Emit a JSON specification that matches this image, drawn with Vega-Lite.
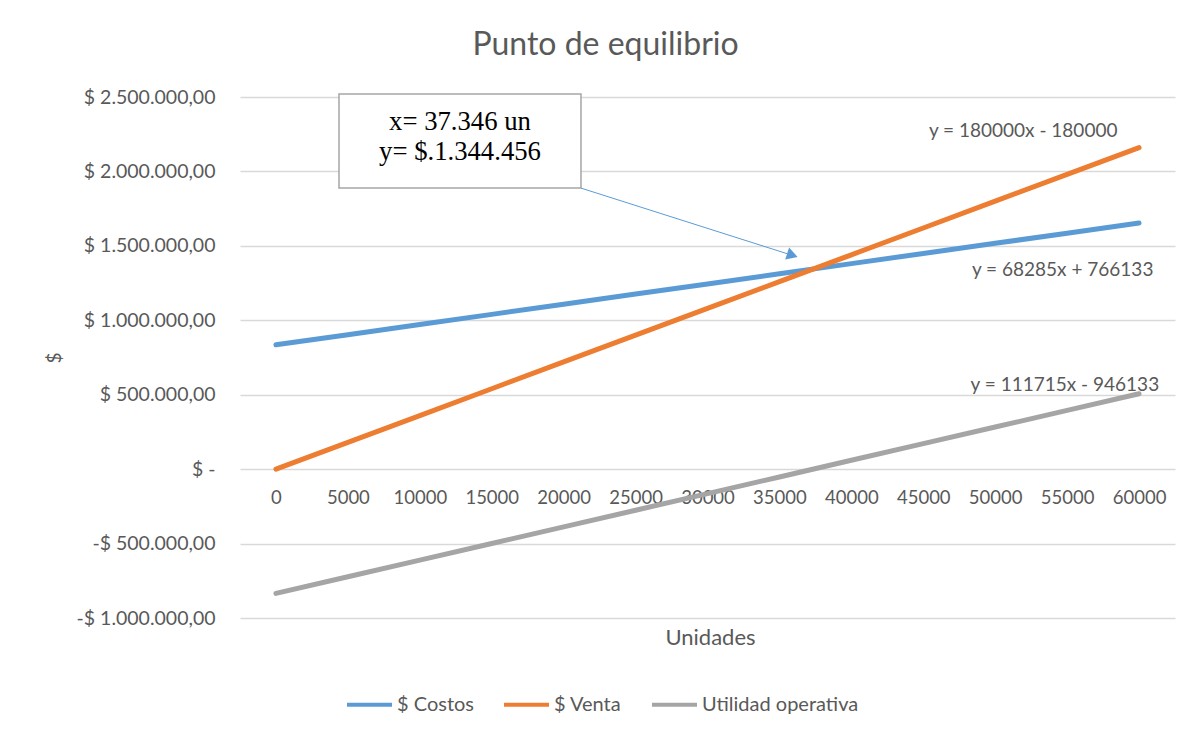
{
  "$schema": "https://vega.github.io/schema/vega-lite/v6.json",
  "width": 935,
  "height": 521,
  "autosize": {"type": "none"},
  "padding": {"left": 240, "top": 97, "right": 22, "bottom": 117},
  "background": "white",
  "title": {"text": "Punto de equilibrio", "fontSize": 32, "font": "Lato", "fontWeight": "normal", "color": "#595959", "anchor": "middle", "dx": -102, "offset": 25},
  "config": {
    "locale": {"number": {"decimal": ",", "thousands": ".", "grouping": [3], "currency": ["$ ", ""]}},
    "view": {"stroke": null},
    "font": "Lato"
  },
  "datasets": {
    "series": [
      {"Unidades": 0, "serie": "$ Costos", "valor": 835000},
      {"Unidades": 5000, "serie": "$ Costos", "valor": 903200},
      {"Unidades": 10000, "serie": "$ Costos", "valor": 971400},
      {"Unidades": 15000, "serie": "$ Costos", "valor": 1039600},
      {"Unidades": 20000, "serie": "$ Costos", "valor": 1107800},
      {"Unidades": 25000, "serie": "$ Costos", "valor": 1176000},
      {"Unidades": 30000, "serie": "$ Costos", "valor": 1244200},
      {"Unidades": 35000, "serie": "$ Costos", "valor": 1312400},
      {"Unidades": 40000, "serie": "$ Costos", "valor": 1380600},
      {"Unidades": 45000, "serie": "$ Costos", "valor": 1448800},
      {"Unidades": 50000, "serie": "$ Costos", "valor": 1517000},
      {"Unidades": 55000, "serie": "$ Costos", "valor": 1585200},
      {"Unidades": 60000, "serie": "$ Costos", "valor": 1653400},
      {"Unidades": 0, "serie": "$ Venta", "valor": 0},
      {"Unidades": 5000, "serie": "$ Venta", "valor": 180000},
      {"Unidades": 10000, "serie": "$ Venta", "valor": 360000},
      {"Unidades": 15000, "serie": "$ Venta", "valor": 540000},
      {"Unidades": 20000, "serie": "$ Venta", "valor": 720000},
      {"Unidades": 25000, "serie": "$ Venta", "valor": 900000},
      {"Unidades": 30000, "serie": "$ Venta", "valor": 1080000},
      {"Unidades": 35000, "serie": "$ Venta", "valor": 1260000},
      {"Unidades": 40000, "serie": "$ Venta", "valor": 1440000},
      {"Unidades": 45000, "serie": "$ Venta", "valor": 1620000},
      {"Unidades": 50000, "serie": "$ Venta", "valor": 1800000},
      {"Unidades": 55000, "serie": "$ Venta", "valor": 1980000},
      {"Unidades": 60000, "serie": "$ Venta", "valor": 2160000},
      {"Unidades": 0, "serie": "Utilidad operativa", "valor": -835000},
      {"Unidades": 5000, "serie": "Utilidad operativa", "valor": -723200},
      {"Unidades": 10000, "serie": "Utilidad operativa", "valor": -611400},
      {"Unidades": 15000, "serie": "Utilidad operativa", "valor": -499600},
      {"Unidades": 20000, "serie": "Utilidad operativa", "valor": -387800},
      {"Unidades": 25000, "serie": "Utilidad operativa", "valor": -276000},
      {"Unidades": 30000, "serie": "Utilidad operativa", "valor": -164200},
      {"Unidades": 35000, "serie": "Utilidad operativa", "valor": -52400},
      {"Unidades": 40000, "serie": "Utilidad operativa", "valor": 59400},
      {"Unidades": 45000, "serie": "Utilidad operativa", "valor": 171200},
      {"Unidades": 50000, "serie": "Utilidad operativa", "valor": 283000},
      {"Unidades": 55000, "serie": "Utilidad operativa", "valor": 394800},
      {"Unidades": 60000, "serie": "Utilidad operativa", "valor": 506600}
    ],
    "trend": [
      {"Unidades": 58500, "valor": 2271000, "label": "y = 180000x - 180000"},
      {"Unidades": 61000, "valor": 1337000, "label": "y = 68285x + 766133"},
      {"Unidades": 61400, "valor": 564000, "label": "y = 111715x - 946133"}
    ],
    "box": [
      {"Unidades": 4382, "Unidades2": 21205, "valor": 2520000, "valor2": 1888000}
    ],
    "callout": [
      {"Unidades": 12794, "valor": 2332000, "label": "x= 37.346 un"},
      {"Unidades": 12794, "valor": 2131000, "label": "y= $.1.344.456"}
    ],
    "arrow": [
      {"Unidades": 21205, "valor": 1888000, "Unidades2": 36100, "valor2": 1430000}
    ],
    "arrowhead": [
      {"Unidades": 35900, "valor": 1437000}
    ]
  },
  "layer": [
    {
      "data": {"name": "series"},
      "mark": {"type": "line", "strokeWidth": 5, "strokeCap": "round", "strokeJoin": "round", "clip": false},
      "encoding": {
        "x": {
          "field": "Unidades", "type": "quantitative",
          "scale": {"domain": [-2500, 62500], "nice": false, "zero": false},
          "axis": {
            "values": [0, 5000, 10000, 15000, 20000, 25000, 30000, 35000, 40000, 45000, 50000, 55000, 60000],
            "format": "d", "grid": false, "domain": false, "ticks": false,
            "offset": -149, "labelPadding": 19, "labelFontSize": 18.5, "labelColor": "#595959", "labelFont": "Lato",
            "title": "Unidades", "titleFontSize": 22, "titleFont": "Lato", "titleFontWeight": "normal", "titleColor": "#595959",
            "titleX": 470, "titleY": 168, "titleBaseline": "middle"
          }
        },
        "y": {
          "field": "valor", "type": "quantitative",
          "scale": {"domain": [-1000000, 2500000], "nice": false},
          "axis": {
            "values": [-1000000, -500000, 0, 500000, 1000000, 1500000, 2000000, 2500000],
            "labelExpr": "datum.value == 0 ? '$ -        ' : (datum.value < 0 ? '-$ ' : '$ ') + format(abs(datum.value), ',.2f')",
            "grid": true, "gridColor": "#D9D9D9", "gridWidth": 1.5, "domain": false, "ticks": false,
            "labelPadding": 25, "labelFontSize": 19.5, "labelColor": "#595959", "labelFont": "Lato",
            "title": "$", "titleFontSize": 19, "titleFont": "Lato", "titleFontWeight": "normal", "titleColor": "#595959", "titlePadding": 12
          }
        },
        "color": {
          "field": "serie", "type": "nominal",
          "scale": {"domain": ["$ Costos", "$ Venta", "Utilidad operativa"], "range": ["#5B9BD5", "#ED7D31", "#A5A5A5"]},
          "legend": {
            "title": null, "orient": "none", "direction": "horizontal", "legendX": 105, "legendY": 583,
            "symbolType": "stroke", "symbolSize": 2025, "symbolStrokeWidth": 4,
            "labelFontSize": 20, "labelFont": "Lato", "labelColor": "#595959", "labelOffset": 3, "columnPadding": 22
          }
        }
      }
    },
    {
      "data": {"name": "trend"},
      "mark": {"type": "text", "align": "right", "baseline": "middle", "fontSize": 19, "font": "Lato", "color": "#595959"},
      "encoding": {
        "x": {"field": "Unidades", "type": "quantitative"},
        "y": {"field": "valor", "type": "quantitative"},
        "text": {"field": "label"}
      }
    },
    {
      "data": {"name": "box"},
      "mark": {"type": "rect", "fill": "white", "stroke": "#A6A6A6", "strokeWidth": 1.5, "clip": false},
      "encoding": {
        "x": {"field": "Unidades", "type": "quantitative"},
        "x2": {"field": "Unidades2"},
        "y": {"field": "valor", "type": "quantitative"},
        "y2": {"field": "valor2"}
      }
    },
    {
      "data": {"name": "callout"},
      "mark": {"type": "text", "align": "center", "baseline": "middle", "fontSize": 26.7, "font": "Liberation Serif", "color": "#000000"},
      "encoding": {
        "x": {"field": "Unidades", "type": "quantitative"},
        "y": {"field": "valor", "type": "quantitative"},
        "text": {"field": "label"}
      }
    },
    {
      "data": {"name": "arrow"},
      "mark": {"type": "rule", "color": "#5B9BD5", "strokeWidth": 1},
      "encoding": {
        "x": {"field": "Unidades", "type": "quantitative"},
        "y": {"field": "valor", "type": "quantitative"},
        "x2": {"field": "Unidades2"},
        "y2": {"field": "valor2"}
      }
    },
    {
      "data": {"name": "arrowhead"},
      "mark": {"type": "point", "shape": "triangle-right", "filled": true, "color": "#5B9BD5", "opacity": 1, "size": 160, "angle": 17.7},
      "encoding": {
        "x": {"field": "Unidades", "type": "quantitative"},
        "y": {"field": "valor", "type": "quantitative"}
      }
    }
  ]
}
